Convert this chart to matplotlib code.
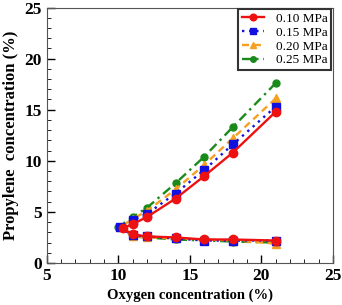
import matplotlib
matplotlib.use("Agg")
import matplotlib.pyplot as plt
from matplotlib.ticker import MultipleLocator

plt.rcParams['font.family'] = ['Liberation Serif', 'DejaVu Serif']

# oxygen concentration (%), lean branch (upper) and lower branch
x_up_010 = [21, 18, 16, 14, 12, 11, 10.3]
y_up_010 = [14.8, 10.8, 8.5, 6.3, 4.5, 3.8, 3.4]
x_lo_010 = [11, 12, 14, 16, 18, 21]
y_lo_010 = [2.8, 2.6, 2.5, 2.3, 2.3, 2.2]

x_up_015 = [21, 18, 16, 14, 12, 11, 10.1]
y_up_015 = [15.3, 11.6, 9.1, 6.8, 4.8, 4.2, 3.5]
x_lo_015 = [11, 12, 14, 16, 18, 21]
y_lo_015 = [2.7, 2.6, 2.4, 2.2, 2.2, 2.2]

x_up_020 = [21, 18, 16, 14, 12, 11, 10.1]
y_up_020 = [16.1, 12.2, 9.6, 7.2, 5.1, 4.3, 3.5]
x_lo_020 = [11, 12, 14, 16, 18, 21]
y_lo_020 = [2.6, 2.5, 2.4, 2.3, 2.2, 1.9]

x_up_025 = [21, 18, 16, 14, 12, 11, 10.0]
y_up_025 = [17.6, 13.3, 10.4, 7.8, 5.4, 4.5, 3.5]
x_lo_025 = [11, 12, 14, 16, 18, 21]
y_lo_025 = [2.6, 2.5, 2.3, 2.2, 2.1, 2.0]

fig = plt.figure(figsize=(3.42, 3.05), dpi=100)
ax = fig.add_axes([0.1365, 0.1377, 0.8372, 0.8377])

series = [
    ('0.25 MPa', x_up_025 + x_lo_025, y_up_025 + y_lo_025, '#1a8a1a', (0, (4, 2, 1, 2)), 'o', 5),
    ('0.20 MPa', x_up_020 + x_lo_020, y_up_020 + y_lo_020, '#f5a020', (0, (3, 2)), '^', 6),
    ('0.15 MPa', x_up_015 + x_lo_015, y_up_015 + y_lo_015, '#1010e0', (0, (1, 2)), 's', 6),
    ('0.10 MPa', x_up_010 + x_lo_010, y_up_010 + y_lo_010, '#ee1111', '-', 'o', 6),
]
handles = {}
for lab, xs, ys, c, ls, mk, ms in series:
    h, = ax.plot(xs, ys, color=c, linestyle=ls, marker=mk, markersize=ms, lw=1.7, label=lab)
    handles[lab] = h

order = ['0.10 MPa', '0.15 MPa', '0.20 MPa', '0.25 MPa']
leg = ax.legend([handles[k] for k in order], order, loc='upper right', fontsize=9.5,
                fancybox=False, edgecolor='#333333', framealpha=1, handlelength=1.7,
                borderpad=0.25, labelspacing=0.12, handletextpad=0.9,
                borderaxespad=0.15, markerscale=0.8)
leg.get_frame().set_linewidth(1.5)

ax.set_xlim(5, 25)
ax.set_ylim(0, 25)
ax.xaxis.set_major_locator(MultipleLocator(5))
ax.xaxis.set_minor_locator(MultipleLocator(1))
ax.yaxis.set_major_locator(MultipleLocator(5))
ax.yaxis.set_minor_locator(MultipleLocator(1))
ax.tick_params(which='both', direction='in', top=False, right=False)
ax.tick_params(which='major', length=6, labelsize=12.5, width=1)
ax.tick_params(which='minor', length=3)
for t in ax.get_xticklabels() + ax.get_yticklabels():
    t.set_fontweight('bold')
for s in ax.spines.values():
    s.set_color('#555555')

ax.set_xlabel('Oxygen concentration (%)', fontsize=10.5, fontweight='bold', labelpad=3)
ax.set_ylabel('Propylene  concentration (%)', fontsize=12, fontweight='bold', labelpad=4)

fig.savefig('out.png', dpi=100)
